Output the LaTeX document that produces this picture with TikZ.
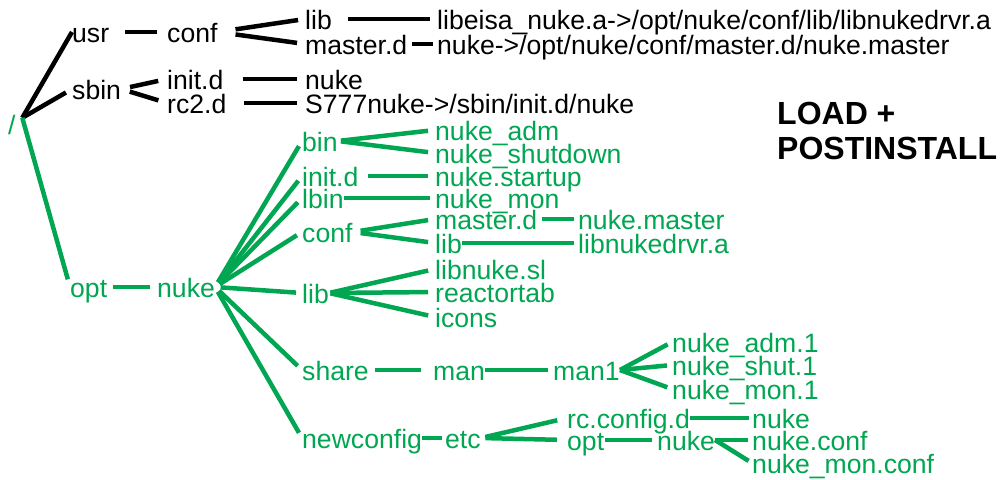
\documentclass[tikz,border=0pt]{standalone}
\usepackage{fontspec}
\setmainfont{Liberation Sans}
\definecolor{instgreen}{HTML}{00A651}

\tikzset{
  dir/.style={font=\fontsize{26.6}{28}\selectfont, inner sep=0pt, anchor=base west,
    text height=20pt, text depth=0pt},
  gdir/.style={dir, text=instgreen},
  link/.style={line width=4.5pt},
  glink/.style={link, draw=instgreen},
  banner/.style={font=\fontsize{32}{34}\selectfont\bfseries, inner sep=0pt, anchor=base west}
}

\begin{document}
\begin{tikzpicture}[x=1pt, y=-1pt]
  \useasboundingbox (0,0) rectangle (1008,479);

  % root
  \node[gdir] (root) at (8,134) {/};
  \coordinate (rootf) at ([xshift=6.5pt,yshift=-4pt]root.north east);

  % usr and sbin (black)
  \node[dir] (usr) at (72,42) {usr};
  \node[dir] (conf) at (167,42) {conf};
  \node[dir] (lib1) at (305,29) {lib};
  \node[dir] (masterd1) at (305,54) {master.d};
  \node[dir] (libeisa) at (437,29) {libeisa\_nuke.a->/opt/nuke/conf/lib/libnukedrvr.a};
  \node[dir] (nukelink) at (437,54) {nuke->/opt/nuke/conf/master.d/nuke.master};
  \node[dir] (sbin) at (72,99) {sbin};
  \node[dir] (initd1) at (167,89) {init.d};
  \node[dir] (rc2d) at (167,113) {rc2.d};
  \node[dir] (nuke1) at (305,89) {nuke};
  \node[dir] (s777) at (305,113) {S777nuke->/sbin/init.d/nuke};

  \draw[link] (rootf) -- (usr.west);
  \draw[link, shorten >=7pt] (rootf) -- (sbin.west);
  \draw[link, shorten <=16pt, shorten >=10pt] (usr.east) -- (conf.west);
  \draw[link, shorten <=18pt, shorten >=7pt] (conf.east) -- (lib1.west);
  \draw[link, shorten <=18pt, shorten >=8pt] (conf.east) -- (masterd1.west);
  \draw[link, shorten <=16pt, shorten >=7pt] (lib1.east) -- (libeisa.west);
  \draw[link, shorten <=4.5pt, shorten >=4pt] (masterd1.east) -- (nukelink.west);
  \draw[link, shorten <=9pt, shorten >=9pt] (sbin.east) -- (initd1.west);
  \draw[link, shorten <=9pt, shorten >=9pt] (sbin.east) -- (rc2d.west);
  \draw[link, shorten <=19pt, shorten >=8pt] (initd1.east) -- (nuke1.west);
  \draw[link, shorten <=17pt, shorten >=8pt] (rc2d.east) -- (s777.west);

  % opt (green)
  \node[gdir] (opt) at (70,297) {opt};
  \node[gdir] (nuke2) at (157,297) {nuke};
  \node[gdir] (bin) at (302,151) {bin};
  \node[gdir] (nukeadm) at (435,140) {nuke\_adm};
  \node[gdir] (nukeshut) at (435,163) {nuke\_shutdown};
  \node[gdir] (initd2) at (302,186) {init.d};
  \node[gdir] (nukestartup) at (435,186) {nuke.startup};
  \node[gdir] (lbin) at (302,208) {lbin};
  \node[gdir] (nukemon) at (435,208) {nuke\_mon};
  \node[gdir] (conf2) at (302,242) {conf};
  \node[gdir] (masterd2) at (435,229) {master.d};
  \node[gdir] (nukemaster) at (578,229) {nuke.master};
  \node[gdir] (lib2) at (435,253) {lib};
  \node[gdir] (libnukedrvr) at (578,253) {libnukedrvr.a};
  \node[gdir] (lib3) at (302,303) {lib};
  \node[gdir] (libnukesl) at (435,279) {libnuke.sl};
  \node[gdir] (reactortab) at (435,302) {reactortab};
  \node[gdir] (icons) at (435,327) {icons};
  \node[gdir] (share) at (302,380) {share};
  \node[gdir] (man) at (433,380) {man};
  \node[gdir] (man1) at (553,380) {man1};
  \node[gdir] (nukeadm1) at (672,352) {nuke\_adm.1};
  \node[gdir] (nukeshut1) at (672,375) {nuke\_shut.1};
  \node[gdir] (nukemon1) at (672,399) {nuke\_mon.1};
  \node[gdir] (newconfig) at (302,448) {newconfig};
  \node[gdir] (etc) at (445,448) {etc};
  \node[gdir] (rcconfigd) at (567,428) {rc.config.d};
  \node[gdir] (nuke3) at (752,428) {nuke};
  \node[gdir] (opt2) at (567,450) {opt};
  \node[gdir] (nuke4) at (657,450) {nuke};
  \node[gdir] (nukeconf) at (752,450) {nuke.conf};
  \node[gdir] (nukemonconf) at (752,473) {nuke\_mon.conf};

  \draw[glink, shorten >=8pt] (rootf) -- (opt.west);
  \draw[glink, shorten <=6pt, shorten >=7pt] (opt.east) -- (nuke2.west);
  \foreach \d in {bin, initd2, lbin, conf2, lib3, share, newconfig}
    \draw[glink, shorten <=5.5pt, shorten >=6pt] (nuke2.east) -- (\d.west);
  \draw[glink, shorten <=3pt, shorten >=7pt] (bin.east) -- (nukeadm.west);
  \draw[glink, shorten <=3pt, shorten >=7pt] (bin.east) -- (nukeshut.west);
  \draw[glink, shorten <=9pt, shorten >=7pt] (initd2.east) -- (nukestartup.west);
  \draw[glink, shorten >=5pt] (lbin.east) -- (nukemon.west);
  \draw[glink, shorten <=8pt, shorten >=7pt] (conf2.east) -- (masterd2.west);
  \draw[glink, shorten <=8pt, shorten >=7pt] (conf2.east) -- (lib2.west);
  \draw[glink, shorten <=4.5pt, shorten >=4pt] (masterd2.east) -- (nukemaster.west);
  \draw[glink, shorten >=4pt] (lib2.east) -- (libnukedrvr.west);
  \foreach \d in {libnukesl, reactortab, icons}
    \draw[glink, shorten <=1.5pt, shorten >=7pt] (lib3.east) -- (\d.west);
  \draw[glink, shorten <=6.5pt, shorten >=12pt] (share.east) -- (man.west);
  \draw[glink, shorten >=5pt] (man.east) -- (man1.west);
  \foreach \d in {nukeadm1, nukeshut1, nukemon1}
    \draw[glink, shorten >=5pt] (man1.east) -- (\d.west);
  \draw[glink, shorten >=3pt] (newconfig.east) -- (etc.west);
  \draw[glink, shorten <=4.5pt, shorten >=10pt] (etc.east) -- (rcconfigd.west);
  \draw[glink, shorten <=4.5pt, shorten >=10pt] (etc.east) -- (opt2.west);
  \draw[glink, shorten >=3pt] (rcconfigd.east) -- (nuke3.west);
  \draw[glink, shorten <=1pt, shorten >=5pt] (opt2.east) -- (nuke4.west);
  \draw[glink, shorten >=4pt] (nuke4.east) -- (nukeconf.west);
  \draw[glink, shorten >=4pt] (nuke4.east) -- (nukemonconf.west);

  % title
  \node[banner] (load) at (777,124) {LOAD +};
  \node[banner] (postinstall) at (777,159) {POSTINSTALL};
\end{tikzpicture}
\end{document}
